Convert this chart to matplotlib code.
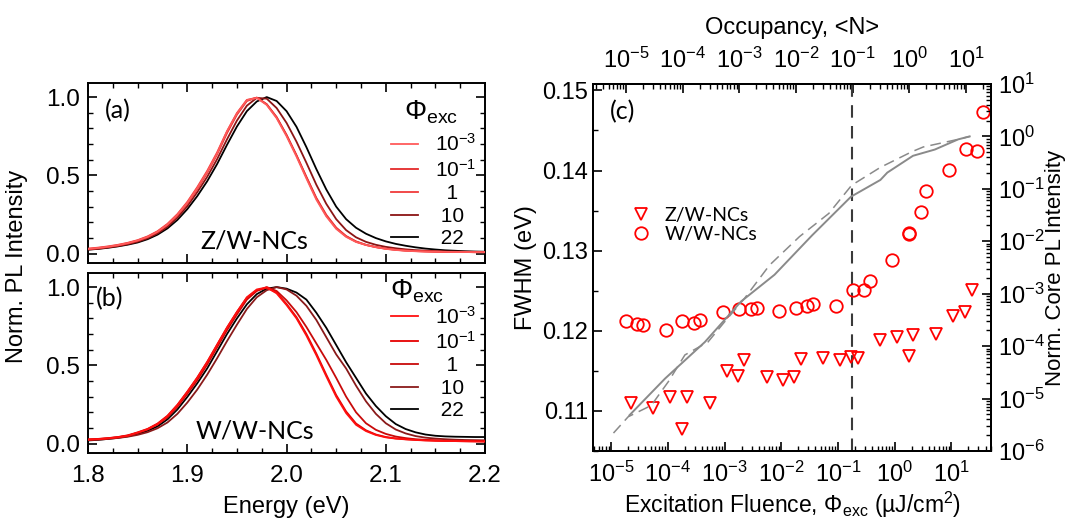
import numpy as np
import matplotlib
matplotlib.use("Agg")
import matplotlib.pyplot as plt
from matplotlib.lines import Line2D
from matplotlib.ticker import MultipleLocator, LogLocator, NullFormatter, FixedLocator

plt.rcParams.update({
    "font.family": ["Liberation Sans", "DejaVu Sans"],
    "mathtext.fontset": "custom",
    "mathtext.rm": "Liberation Sans",
    "mathtext.it": "Liberation Sans:italic",
    "mathtext.bf": "Liberation Sans:bold",
    "font.size": 16,
    "axes.linewidth": 1.4,
    "xtick.direction": "in", "ytick.direction": "in",
    "xtick.major.size": 6.5, "ytick.major.size": 6.5,
    "xtick.minor.size": 3.5, "ytick.minor.size": 3.5,
    "xtick.major.width": 1.2, "ytick.major.width": 1.2,
    "xtick.minor.width": 1.0, "ytick.minor.width": 1.0,
})
CAL = ["Lato", "DejaVu Sans"]

# ---------------- data: PL spectra (a) Z/W-NCs, (b) W/W-NCs ----------------
ENERGY = [1.80, 1.81, 1.82, 1.83, 1.84, 1.85, 1.86, 1.87, 1.88, 1.89,
          1.90, 1.91, 1.92, 1.93, 1.94, 1.95, 1.96, 1.97, 1.98, 1.99,
          2.00, 2.01, 2.02, 2.03, 2.04, 2.05, 2.06, 2.07, 2.08, 2.09,
          2.10, 2.11, 2.12, 2.13, 2.14, 2.15, 2.16, 2.17, 2.18, 2.19, 2.20]
FLUENCE_LABELS = [r"$\mathregular{10^{-3}}$", r"$\mathregular{10^{-1}}$",
                  "  1", " 10", " 22"]

ZW_SPECTRA = [
    [0.030, 0.036, 0.044, 0.054, 0.067, 0.084, 0.107, 0.140, 0.186, 0.248,
     0.325, 0.418, 0.522, 0.640, 0.780, 0.895, 0.980, 0.995, 0.950, 0.865,
     0.750, 0.620, 0.480, 0.345, 0.238, 0.158, 0.107, 0.074, 0.055, 0.041,
     0.030, 0.023, 0.018, 0.015, 0.013, 0.012, 0.011, 0.010, 0.010, 0.009, 0.009],
    [0.028, 0.034, 0.042, 0.052, 0.065, 0.082, 0.105, 0.138, 0.183, 0.244,
     0.320, 0.412, 0.516, 0.634, 0.770, 0.888, 0.975, 0.997, 0.955, 0.872,
     0.758, 0.628, 0.488, 0.352, 0.243, 0.162, 0.110, 0.076, 0.055, 0.041,
     0.031, 0.024, 0.019, 0.016, 0.014, 0.012, 0.011, 0.010, 0.010, 0.009, 0.009],
    [0.032, 0.038, 0.046, 0.056, 0.069, 0.086, 0.110, 0.143, 0.190, 0.252,
     0.330, 0.424, 0.528, 0.646, 0.782, 0.898, 0.982, 0.996, 0.953, 0.870,
     0.757, 0.628, 0.490, 0.356, 0.248, 0.166, 0.112, 0.078, 0.056, 0.042,
     0.032, 0.025, 0.020, 0.016, 0.014, 0.012, 0.011, 0.010, 0.010, 0.009, 0.009],
    [0.026, 0.031, 0.039, 0.048, 0.060, 0.076, 0.098, 0.129, 0.172, 0.230,
     0.303, 0.392, 0.490, 0.603, 0.730, 0.850, 0.945, 0.995, 0.990, 0.930,
     0.835, 0.715, 0.580, 0.440, 0.318, 0.220, 0.150, 0.104, 0.075, 0.056,
     0.043, 0.034, 0.027, 0.022, 0.019, 0.016, 0.014, 0.013, 0.012, 0.011, 0.010],
    [0.025, 0.030, 0.037, 0.046, 0.057, 0.071, 0.092, 0.121, 0.161, 0.215,
     0.284, 0.367, 0.462, 0.572, 0.695, 0.812, 0.910, 0.972, 1.000, 0.975,
     0.910, 0.810, 0.680, 0.540, 0.410, 0.300, 0.220, 0.165, 0.127, 0.099,
     0.078, 0.062, 0.050, 0.040, 0.032, 0.026, 0.021, 0.018, 0.015, 0.013, 0.012],
]
WW_SPECTRA = [
    [0.025, 0.028, 0.033, 0.040, 0.050, 0.070, 0.092, 0.125, 0.175, 0.245,
     0.330, 0.420, 0.520, 0.630, 0.740, 0.840, 0.935, 0.985, 0.998, 0.960,
     0.885, 0.800, 0.690, 0.565, 0.430, 0.300, 0.195, 0.120, 0.080, 0.055,
     0.040, 0.032, 0.027, 0.023, 0.020, 0.018, 0.017, 0.016, 0.015, 0.014, 0.013],
    [0.027, 0.030, 0.035, 0.042, 0.053, 0.072, 0.094, 0.128, 0.178, 0.248,
     0.332, 0.422, 0.522, 0.632, 0.742, 0.842, 0.932, 0.980, 0.995, 0.965,
     0.892, 0.808, 0.700, 0.575, 0.440, 0.310, 0.205, 0.128, 0.085, 0.058,
     0.042, 0.033, 0.028, 0.024, 0.021, 0.019, 0.017, 0.016, 0.015, 0.014, 0.014],
    [0.026, 0.029, 0.034, 0.041, 0.051, 0.068, 0.090, 0.122, 0.168, 0.235,
     0.318, 0.405, 0.505, 0.615, 0.725, 0.825, 0.920, 0.975, 1.000, 0.975,
     0.915, 0.840, 0.745, 0.640, 0.535, 0.420, 0.300, 0.200, 0.130, 0.088,
     0.062, 0.045, 0.035, 0.028, 0.024, 0.021, 0.019, 0.018, 0.017, 0.016, 0.015],
    [0.022, 0.025, 0.030, 0.036, 0.044, 0.056, 0.073, 0.098, 0.135, 0.190,
     0.262, 0.345, 0.440, 0.545, 0.655, 0.760, 0.860, 0.935, 0.980, 1.000,
     0.985, 0.945, 0.880, 0.790, 0.680, 0.570, 0.480, 0.370, 0.270, 0.190,
     0.130, 0.090, 0.065, 0.048, 0.038, 0.032, 0.028, 0.025, 0.023, 0.022, 0.021],
    [0.020, 0.024, 0.030, 0.037, 0.047, 0.062, 0.082, 0.110, 0.155, 0.218,
     0.298, 0.385, 0.480, 0.590, 0.700, 0.800, 0.890, 0.955, 0.990, 1.000,
     0.990, 0.965, 0.920, 0.836, 0.740, 0.630, 0.520, 0.420, 0.320, 0.240,
     0.175, 0.125, 0.093, 0.072, 0.058, 0.050, 0.046, 0.044, 0.043, 0.042, 0.042],
]
ZW_COLORS = ["#FF5A5A", "#E42A2A", "#F03A3A", "#8B1414", "#000000"]
WW_COLORS = ["#FF1010", "#E60000", "#C80A0A", "#8A1A1A", "#000000"]

# ---------------- data: FWHM vs fluence (c) ----------------
ZW_PHI = [2.25e-5, 5.5e-5, 1.1e-4, 1.75e-4, 2.2e-4, 5.5e-4, 1.1e-3, 1.74e-3,
          2.2e-3, 5.5e-3, 1.08e-2, 1.7e-2, 2.2e-2, 5.5e-2, 0.107, 0.17, 0.23,
          0.55, 1.08, 1.76, 2.13, 5.4, 10.7, 17.4, 23.0]
ZW_FWHM = [0.1110, 0.1104, 0.1118, 0.1077, 0.1117, 0.1110, 0.1150, 0.1144,
           0.1163, 0.1142, 0.1138, 0.1142, 0.1165, 0.1166, 0.1163, 0.1167, 0.1166,
           0.1189, 0.1192, 0.1169, 0.1195, 0.1196, 0.1218, 0.1223, 0.1251]

WW_PHI = [1.8e-5, 2.9e-5, 3.7e-5, 9.2e-5, 1.8e-4, 2.9e-4, 3.7e-4, 9.2e-4,
          1.8e-3, 2.9e-3, 3.7e-3, 9.2e-3, 1.8e-2, 2.9e-2, 3.6e-2, 9.1e-2,
          0.183, 0.29, 0.36, 0.90, 1.8, 1.82, 2.86, 3.6, 8.9, 18.1, 28.3, 35.5]
WW_FWHM = [0.1212, 0.1208, 0.1207, 0.1201, 0.1212, 0.1210, 0.1214, 0.1223,
           0.1227, 0.1227, 0.1229, 0.1225, 0.1229, 0.1231, 0.1233, 0.1231,
           0.1251, 0.1251, 0.1262, 0.1288, 0.1322, 0.1321, 0.1348, 0.1374,
           0.1401, 0.1427, 0.1424, 0.1473]

# core PL intensity (right axis)
CORE_PHI_SOLID = [2.1e-5, 8.9e-5, 4.5e-4, 1.95e-3, 7.6e-3, 3.5e-2, 0.17,
                  0.56, 0.74, 2.1, 5.1, 13.2, 21.0]
CORE_I_SOLID = [4.8e-6, 2.4e-5, 1.2e-4, 7.1e-4, 2.3e-3, 1.3e-2, 7.1e-2,
                0.148, 0.204, 0.427, 0.562, 0.88, 1.0]
CORE_PHI_DASH = [1.1e-5, 2.0e-5, 5.1e-5, 1.02e-4, 2.0e-4, 5.1e-4, 1.0e-3,
                 2.24e-3, 6.2e-3, 2.1e-2, 6.9e-2, 0.174, 0.56, 2.0, 3.2, 13.2, 21.0]
CORE_I_DASH = [2.2e-6, 4.5e-6, 7.4e-6, 2.1e-5, 6.8e-5, 1.2e-4, 2.9e-4,
               8.1e-4, 3.5e-3, 1.23e-2, 3.4e-2, 0.117, 0.257, 0.51, 0.63, 0.88, 1.0]

PHI_MARK = 0.18          # <N> = 0.1
N_PER_PHI = 0.55         # occupancy per uJ/cm^2
N_TICKS = [1e-5, 1e-4, 1e-3, 1e-2, 1e-1, 1e0, 1e1]


def spectra_panel(ax, spectra, colors, tag, name, leg_y, phi_xy, tag_xy):
    for k, (ys, c) in enumerate(zip(spectra, colors)):
        ax.plot(ENERGY, ys, color=c, lw=1.3, zorder=10 - k)
    ax.set_xlim(1.8, 2.2)
    ax.set_ylim(-0.06, 1.09)
    ax.xaxis.set_major_locator(MultipleLocator(0.1))
    ax.xaxis.set_minor_locator(MultipleLocator(0.025))
    ax.yaxis.set_major_locator(MultipleLocator(0.5))
    ax.yaxis.set_minor_locator(MultipleLocator(0.1))
    ax.tick_params(which="both", top=True, right=True, labelsize=17.5, pad=6)
    ax.tick_params(axis="x", pad=9)
    handles = [Line2D([], [], color=c, lw=1.3) for c in colors]
    ax.legend(handles, FLUENCE_LABELS, loc="upper left",
              bbox_to_anchor=(0.763, leg_y), frameon=False, fontsize=15,
              handlelength=1.3, handletextpad=0.8, labelspacing=0.17,
              borderpad=0, borderaxespad=0)
    ax.text(*phi_xy, r"$\mathregular{\Phi_{exc}}$", transform=ax.transAxes,
            fontsize=20, ha="left", va="center")
    ax.text(*tag_xy, tag, transform=ax.transAxes, fontsize=18,
            family=CAL, ha="center", va="center")
    ax.text(0.42, 0.12, name, transform=ax.transAxes, fontsize=18,
            family=CAL, ha="center", va="center")


fig = plt.figure(figsize=(10.83, 5.22), dpi=100)
ax_a = fig.add_axes([0.0813, 0.4962, 0.3666, 0.3448])
ax_b = fig.add_axes([0.0813, 0.1322, 0.3666, 0.3448])

spectra_panel(ax_a, ZW_SPECTRA, ZW_COLORS, "(a)", "Z/W-NCs", 0.72,
              (0.795, 0.835), (0.076, 0.845))
spectra_panel(ax_b, WW_SPECTRA, WW_COLORS, "(b)", "W/W-NCs", 0.82,
              (0.760, 0.90), (0.055, 0.855))
ax_a.tick_params(axis="x", labelbottom=False)
ax_b.set_xlabel("Energy (eV)", fontsize=17, labelpad=6)
fig.text(0.016, 0.49, "Norm. PL Intensity", rotation=90, fontsize=17,
         ha="center", va="center")

# ---------------- panel (c) ----------------
ax = fig.add_axes([0.5476, 0.1360, 0.3675, 0.7031])
ax.set_xscale("log")
ax.set_xlim(4.8e-6, 50)
ax.set_ylim(0.105, 0.1508)
ax.yaxis.set_major_locator(MultipleLocator(0.01))
ax.yaxis.set_minor_locator(MultipleLocator(0.005))
ax.yaxis.set_major_formatter(plt.FuncFormatter(lambda v, p: f"{v:.2f}"))
ax.xaxis.set_major_locator(LogLocator(base=10, numticks=20))
ax.xaxis.set_minor_locator(LogLocator(base=10, subs=np.arange(2, 10), numticks=20))
ax.xaxis.set_minor_formatter(NullFormatter())
ax.tick_params(which="both", labelsize=17, top=False, right=False)
ax.tick_params(axis="x", pad=8)

ax.axvline(PHI_MARK, color="#3a3a3a", lw=1.5, dashes=(6, 4), zorder=1)
ax.plot(ZW_PHI, ZW_FWHM, ls="none", marker="v", ms=8.5, mfc="none",
        mec="#FF0000", mew=1.3, label="Z/W-NCs", clip_on=False, zorder=3)
ax.plot(WW_PHI, WW_FWHM, ls="none", marker="o", ms=9, mfc="none",
        mec="#FF0000", mew=1.3, label="W/W-NCs", clip_on=False, zorder=3)
ax.legend(loc="upper left", bbox_to_anchor=(0.097, 0.665), frameon=False,
          prop={"family": CAL, "size": 14}, handlelength=1.0,
          handletextpad=0.7, labelspacing=0.1, borderpad=0, borderaxespad=0)
ax.text(0.075, 0.924, "(c)", transform=ax.transAxes, fontsize=18,
        family=CAL, ha="center", va="center")
ax.set_ylabel("FWHM (eV)", fontsize=17, labelpad=4)
ax.set_xlabel(r"Excitation Fluence, $\Phi_{\mathregular{exc}}$ (µJ/cm$^2$)",
              fontsize=16.5, labelpad=2)

ax2 = ax.twinx()
ax2.set_yscale("log")
ax2.set_ylim(1e-6, 10)
ax2.yaxis.set_major_locator(LogLocator(base=10, numticks=20))
ax2.yaxis.set_minor_locator(LogLocator(base=10, subs=np.arange(2, 10), numticks=20))
ax2.yaxis.set_minor_formatter(NullFormatter())
ax2.plot(CORE_PHI_SOLID, CORE_I_SOLID, color="#8a8a8a", lw=1.4)
ax2.plot(CORE_PHI_DASH, CORE_I_DASH, color="#8a8a8a", lw=1.1, dashes=(7, 4))
ax2.tick_params(which="both", labelsize=17, pad=5)
ax2.set_ylabel("Norm. Core PL Intensity", fontsize=16, labelpad=0)

top = ax.secondary_xaxis("top", functions=(lambda x: x * N_PER_PHI,
                                            lambda n: n / N_PER_PHI))
top.xaxis.set_major_locator(FixedLocator(N_TICKS))
top.xaxis.set_minor_locator(LogLocator(base=10, subs=np.arange(2, 10), numticks=20))
top.xaxis.set_minor_formatter(NullFormatter())
top.tick_params(which="both", direction="in", labelsize=17, pad=8)
top.set_xlabel("Occupancy, <N>", fontsize=17, labelpad=10)

fig.savefig("out.png", dpi=100)
